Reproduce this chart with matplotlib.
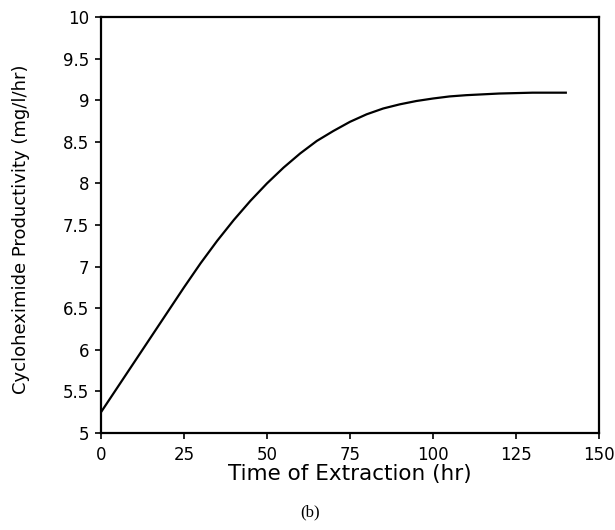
import matplotlib
matplotlib.use('Agg')
import matplotlib.pyplot as plt

# Values
time_hr = [0, 5, 10, 15, 20, 25, 30, 35, 40, 45, 50, 55, 60, 65, 70,
           75, 80, 85, 90, 95, 100, 105, 110, 115, 120, 125, 130, 135, 140]
productivity = [5.25, 5.55, 5.85, 6.15, 6.45, 6.75, 7.04, 7.31, 7.56, 7.79, 8.00,
                8.19, 8.36, 8.51, 8.63, 8.74, 8.83, 8.90, 8.95, 8.99, 9.02,
                9.045, 9.06, 9.07, 9.08, 9.085, 9.09, 9.09, 9.09]

x_ticks = [0, 25, 50, 75, 100, 125, 150]
y_ticks = [5, 5.5, 6, 6.5, 7, 7.5, 8, 8.5, 9, 9.5, 10]
y_ticklabels = ['5', '5.5', '6', '6.5', '7', '7.5', '8', '8.5', '9', '9.5', '10']

plt.rcParams['font.family'] = ['DejaVu Sans']

fig = plt.figure(figsize=(6.15, 5.3), dpi=100)
ax = fig.add_axes([0.1642, 0.183, 0.8098, 0.785])

ax.plot(time_hr, productivity, color='black', linewidth=1.6)

ax.set_xlim(0, 150)
ax.set_ylim(5, 10)
ax.set_xticks(x_ticks)
ax.set_yticks(y_ticks)
ax.set_yticklabels(y_ticklabels)
ax.tick_params(direction='out', length=4, width=1.2, labelsize=12)
ax.tick_params(axis='x', pad=5)
ax.tick_params(axis='y', pad=4.5)
for s in ax.spines.values():
    s.set_linewidth(1.6)

ax.set_xlabel('Time of Extraction (hr)', fontsize=15.5, labelpad=0)
ax.set_ylabel('Cycloheximide Productivity (mg/l/hr)', fontsize=13)
ax.yaxis.set_label_coords(-0.143, 0.49)

fig.text(0.504, 0.034, '(b)', family='Liberation Serif', fontsize=12,
         ha='center', va='center')

fig.savefig('out.png', dpi=100)
